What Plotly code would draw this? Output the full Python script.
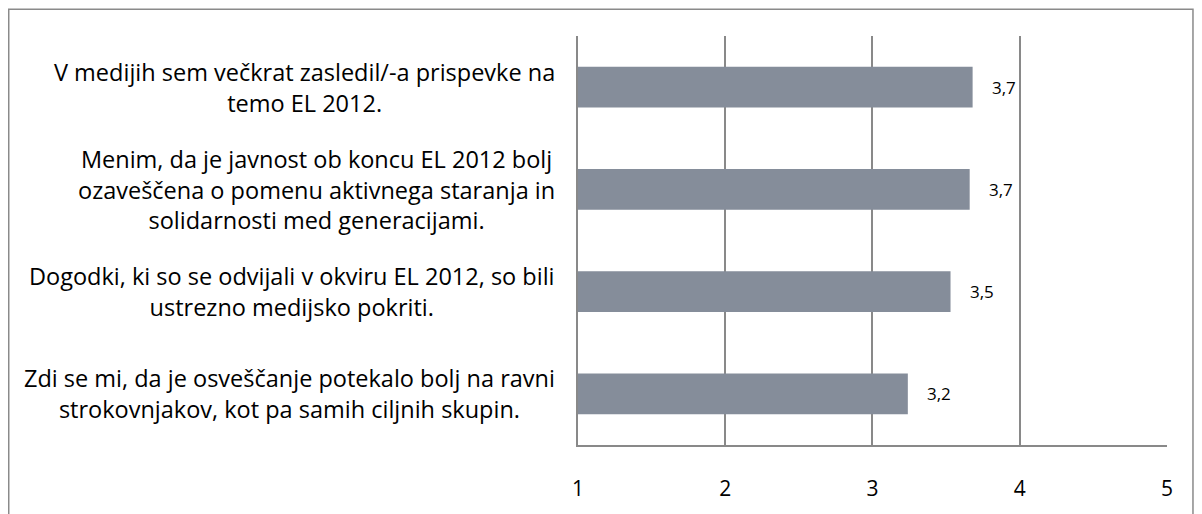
import plotly.graph_objects as go

categories = [
    "V medijih sem večkrat zasledil/-a prispevke na<br>temo EL 2012.",
    "Menim, da je javnost ob koncu EL 2012 bolj<br>ozaveščena o pomenu aktivnega staranja in<br>solidarnosti med generacijami.",
    "Dogodki, ki so se odvijali v okviru EL 2012, so bili<br>ustrezno medijsko pokriti.",
    "Zdi se mi, da je osveščanje potekalo bolj na ravni<br>strokovnjakov, kot pa samih ciljnih skupin.",
]
values = [3.68, 3.66, 3.53, 3.24]
value_labels = ["3,7", "3,7", "3,5", "3,2"]
tick_values = [1, 2, 3, 4, 5]
tick_labels = ["1", "2", "3", "4", "5"]

FONT = "'Open Sans', 'Noto Sans', sans-serif"
GRID = "#898989"
BAR = "#858d9a"

fig = go.Figure()
fig.add_trace(go.Bar(
    x=values, y=categories, orientation="h",
    marker=dict(color=BAR, line=dict(width=0)),
    width=0.4, hoverinfo="skip", showlegend=False,
))

annotations = []
for c in categories:
    annotations.append(dict(
        x=-0.036, xref="paper", y=c, yref="y", text=c,
        xanchor="right", yanchor="middle", align="center", showarrow=False,
        font=dict(family=FONT, size=23.5, color="#000000"),
    ))
for c, v, t in zip(categories, values, value_labels):
    annotations.append(dict(
        x=v, xref="x", y=c, yref="y", text=t,
        xanchor="left", yanchor="middle", xshift=17, showarrow=False,
        font=dict(family=FONT, size=17, color="#000000"),
    ))

fig.update_layout(
    width=1194, height=506,
    margin=dict(l=570, r=35, t=28, b=63),
    paper_bgcolor="white", plot_bgcolor="white",
    font=dict(family=FONT, color="#000000"),
    bargap=0.6,
    annotations=annotations,
    shapes=[dict(
        type="rect", xref="paper", yref="paper",
        x0=-0.9665, x1=1.0441, y0=-0.6, y1=1.0657,
        line=dict(color="#8a8a8a", width=1.5), layer="below",
    )],
    xaxis=dict(
        range=[1, 5.0001], tickvals=tick_values, ticktext=tick_labels,
        showgrid=True, gridcolor=GRID, gridwidth=1.5, zeroline=False,
        showline=True, linecolor=GRID, linewidth=1.5,
        ticks="", ticklabelstandoff=24,
        tickfont=dict(family=FONT, size=21, color="#000000"),
    ),
    yaxis=dict(
        categoryorder="array", categoryarray=categories[::-1],
        showticklabels=False, showgrid=False, zeroline=False,
        showline=True, linecolor=GRID, linewidth=1.5, ticks="",
    ),
)

fig.write_html("out.html")
